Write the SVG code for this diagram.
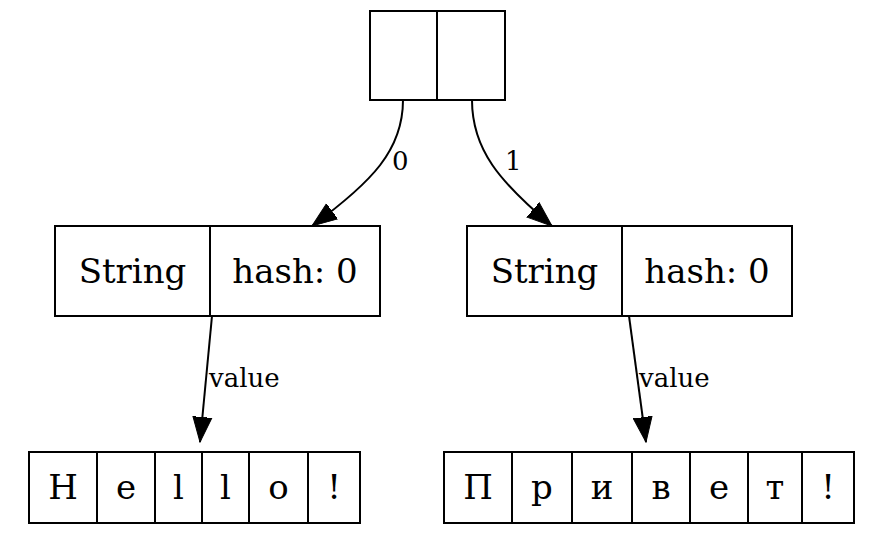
<svg xmlns="http://www.w3.org/2000/svg" width="885" height="543" viewBox="0 0 885 543">
<defs>
<style>
.box{fill:#fff;stroke:#000;stroke-width:2}
.div{stroke:#000;stroke-width:2}
.t{font-family:"DejaVu Serif","Liberation Serif",serif;font-size:34px;text-anchor:middle;fill:#000}
.lbl{font-family:"DejaVu Serif","Liberation Serif",serif;font-size:26px;fill:#000}
.edge{fill:none;stroke:#000;stroke-width:2}
</style>
<marker id="arr" markerUnits="userSpaceOnUse" markerWidth="26" markerHeight="22" refX="25" refY="11" orient="auto">
<path d="M0,1.5 L25,11 L0,20.5 z" fill="#000" stroke="#000" stroke-width="1"/>
</marker>
</defs>
<rect width="885" height="543" fill="#fff"/>
<g id="connectors">
<path class="edge" d="M403,100 C403,150 372,182 312,226" marker-end="url(#arr)"/>
<text class="lbl" x="392" y="170">0</text>
<path class="edge" d="M472,100 C472,150 500,182 552,226" marker-end="url(#arr)"/>
<text class="lbl" x="505" y="170">1</text>
<path class="edge" d="M212,316 L200,442" marker-end="url(#arr)"/>
<text class="lbl" x="209" y="387">value</text>
<path class="edge" d="M629,316 L646,442" marker-end="url(#arr)"/>
<text class="lbl" x="639" y="387">value</text>
</g>
<g id="root">
<rect class="box" x="370" y="11" width="135" height="89"/>
<line class="div" x1="437" y1="11" x2="437" y2="100"/>
</g>
<g id="str0">
<rect class="box" x="55" y="226" width="325" height="90"/>
<line class="div" x1="210" y1="226" x2="210" y2="316"/>
<text class="t" x="132.5" y="283">String</text>
<text class="t" x="295" y="283">hash: 0</text>
</g>
<g id="str1">
<rect class="box" x="467" y="226" width="325" height="90"/>
<line class="div" x1="622" y1="226" x2="622" y2="316"/>
<text class="t" x="544.5" y="283">String</text>
<text class="t" x="707" y="283">hash: 0</text>
</g>
<g id="hello">
<rect class="box" x="29" y="452" width="331" height="71"/>
<line class="div" x1="97" y1="452" x2="97" y2="523"/>
<line class="div" x1="155" y1="452" x2="155" y2="523"/>
<line class="div" x1="202" y1="452" x2="202" y2="523"/>
<line class="div" x1="249" y1="452" x2="249" y2="523"/>
<line class="div" x1="308" y1="452" x2="308" y2="523"/>
<text class="t" x="63" y="499">H</text>
<text class="t" x="126" y="499">e</text>
<text class="t" x="178.5" y="499">l</text>
<text class="t" x="225.5" y="499">l</text>
<text class="t" x="278.5" y="499">o</text>
<text class="t" x="334" y="499">!</text>
</g>
<g id="privet">
<rect class="box" x="444" y="452" width="410" height="71"/>
<line class="div" x1="512" y1="452" x2="512" y2="523"/>
<line class="div" x1="572" y1="452" x2="572" y2="523"/>
<line class="div" x1="632" y1="452" x2="632" y2="523"/>
<line class="div" x1="690" y1="452" x2="690" y2="523"/>
<line class="div" x1="748" y1="452" x2="748" y2="523"/>
<line class="div" x1="802" y1="452" x2="802" y2="523"/>
<text class="t" x="478" y="499">П</text>
<text class="t" x="542" y="499">р</text>
<text class="t" x="602" y="499">и</text>
<text class="t" x="661" y="499">в</text>
<text class="t" x="719" y="499">е</text>
<text class="t" x="775" y="499">т</text>
<text class="t" x="828" y="499">!</text>
</g>
</svg>
